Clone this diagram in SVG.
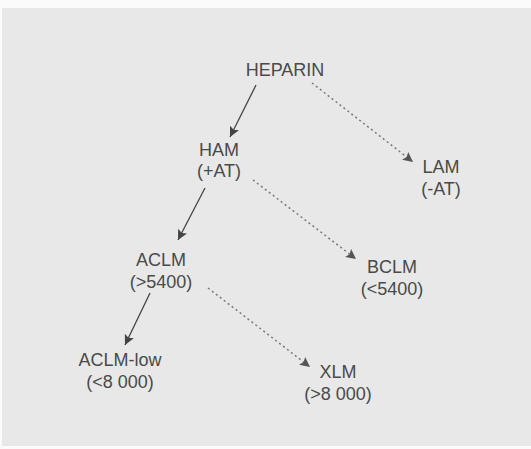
<svg xmlns="http://www.w3.org/2000/svg" width="531" height="449" viewBox="0 0 531 449">
<defs>
<style>
text{font-family:"Liberation Sans",Arial,sans-serif;font-size:18px;fill:#4a4a4a;text-anchor:middle}
.s{stroke:#444;stroke-width:1.3;fill:none}
.d{stroke:#777;stroke-width:1.5;fill:none;stroke-dasharray:2 3}
</style>
<marker id="a" viewBox="0 0 10 10" refX="10" refY="5" markerWidth="12" markerHeight="10" markerUnits="userSpaceOnUse" orient="auto"><path d="M0,0 L10,5 L0,10 L2,5 Z" fill="#444"/></marker>
<marker id="b" viewBox="0 0 10 10" refX="10" refY="5" markerWidth="12" markerHeight="10" markerUnits="userSpaceOnUse" orient="auto"><path d="M0,0 L10,5 L0,10 L2,5 Z" fill="#555"/></marker>
</defs>
<rect width="531" height="449" fill="#fbfbfb"/>
<rect x="2" y="8" width="529" height="438" fill="#e8e8e8"/>
<g id="connectors">
<line class="s" x1="256" y1="85" x2="230" y2="137" marker-end="url(#a)"/>
<line class="d" x1="312" y1="83" x2="413" y2="162" marker-end="url(#b)"/>
<line class="s" x1="205" y1="188" x2="178" y2="240" marker-end="url(#a)"/>
<line class="d" x1="253" y1="180" x2="356" y2="259" marker-end="url(#b)"/>
<line class="s" x1="150" y1="293" x2="125" y2="345" marker-end="url(#a)"/>
<line class="d" x1="208" y1="288" x2="310" y2="367" marker-end="url(#b)"/>
</g>
<g id="heparin"><text x="285" y="76">HEPARIN</text></g>
<g id="ham"><text x="219" y="156">HAM</text><text x="219" y="177">(+AT)</text></g>
<g id="lam"><text x="441" y="173">LAM</text><text x="441" y="195">(-AT)</text></g>
<g id="aclm"><text x="161" y="266">ACLM</text><text x="161" y="288">(&gt;5400)</text></g>
<g id="bclm"><text x="392" y="273">BCLM</text><text x="392" y="295">(&lt;5400)</text></g>
<g id="aclm-low"><text x="120" y="366">ACLM-low</text><text x="120" y="388">(&lt;8 000)</text></g>
<g id="xlm"><text x="338" y="378">XLM</text><text x="338" y="400">(&gt;8 000)</text></g>
</svg>
